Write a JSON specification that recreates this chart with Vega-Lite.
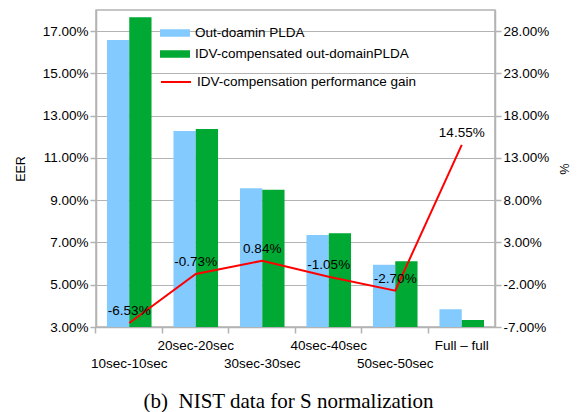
{
  "$schema": "https://vega.github.io/schema/vega-lite/v6.json",
  "width": 399,
  "height": 317,
  "autosize": {"type": "none"},
  "padding": {"left": 96, "top": 10, "right": 84, "bottom": 85},
  "background": "white",
  "config": {
    "font": "Liberation Sans",
    "view": {"stroke": "#b3b3b3", "strokeWidth": 1.5},
    "axis": {
      "labelFont": "Liberation Sans",
      "titleFont": "Liberation Sans",
      "labelColor": "#000",
      "titleColor": "#000",
      "domainColor": "#b3b3b3",
      "tickColor": "#b3b3b3",
      "gridColor": "#b3b3b3",
      "gridOpacity": 1,
      "domainWidth": 1.5,
      "tickWidth": 1.5,
      "gridWidth": 1.2,
      "titleFontWeight": "normal"
    }
  },
  "title": {
    "text": "(b)\u00a0 NIST data for S normalization",
    "orient": "bottom",
    "font": "Liberation Serif",
    "fontSize": 21,
    "fontWeight": "normal",
    "color": "#000",
    "anchor": "middle",
    "dx": -7,
    "offset": 21
  },
  "datasets": {
    "bars": [
      {"cat": "10sec-10sec", "series": "Out-doamin PLDA", "eer": 16.58},
      {"cat": "10sec-10sec", "series": "IDV-compensated out-domainPLDA", "eer": 17.66},
      {"cat": "20sec-20sec", "series": "Out-doamin PLDA", "eer": 12.27},
      {"cat": "20sec-20sec", "series": "IDV-compensated out-domainPLDA", "eer": 12.37},
      {"cat": "30sec-30sec", "series": "Out-doamin PLDA", "eer": 9.57},
      {"cat": "30sec-30sec", "series": "IDV-compensated out-domainPLDA", "eer": 9.49},
      {"cat": "40sec-40sec", "series": "Out-doamin PLDA", "eer": 7.35},
      {"cat": "40sec-40sec", "series": "IDV-compensated out-domainPLDA", "eer": 7.44},
      {"cat": "50sec-50sec", "series": "Out-doamin PLDA", "eer": 5.94},
      {"cat": "50sec-50sec", "series": "IDV-compensated out-domainPLDA", "eer": 6.11},
      {"cat": "Full – full", "series": "Out-doamin PLDA", "eer": 3.84},
      {"cat": "Full – full", "series": "IDV-compensated out-domainPLDA", "eer": 3.33}
    ],
    "gain": [
      {"cat": "10sec-10sec", "gain": -6.53, "label": "-6.53%"},
      {"cat": "20sec-20sec", "gain": -0.73, "label": "-0.73%"},
      {"cat": "30sec-30sec", "gain": 0.84, "label": "0.84%"},
      {"cat": "40sec-40sec", "gain": -1.05, "label": "-1.05%"},
      {"cat": "50sec-50sec", "gain": -2.70, "label": "-2.70%"},
      {"cat": "Full – full", "gain": 14.55, "label": "14.55%"}
    ]
  },
  "layer": [
    {
      "data": {"name": "bars"},
      "mark": {"type": "bar", "clip": true},
      "encoding": {
        "x": {
          "field": "cat",
          "type": "nominal",
          "sort": null,
          "scale": {"paddingInner": 0.33, "paddingOuter": 0.165},
          "axis": {
            "title": null,
            "labelAngle": 0,
            "bandPosition": -0.2463,
            "grid": false,
            "tickSize": 6,
            "labelPadding": 5,
            "labelFontSize": 13.5,
            "labelLineHeight": 18,
            "labelBaseline": "top",
            "labelOverlap": false,
            "labelBound": false,
            "labelExpr": "indexof(['20sec-20sec','40sec-40sec','Full – full'], datum.value) >= 0 ? datum.label : ['', datum.label]"
          }
        },
        "xOffset": {"field": "series", "sort": ["Out-doamin PLDA", "IDV-compensated out-domainPLDA"]},
        "y": {
          "field": "eer",
          "type": "quantitative",
          "scale": {"domain": [3, 18], "zero": false, "nice": false},
          "axis": {
            "title": "EER",
            "titleFontSize": 12.5,
            "titlePadding": 15,
            "values": [3, 5, 7, 9, 11, 13, 15, 17],
            "labelExpr": "format(datum.value, '.2f') + '%'",
            "labelFontSize": 13.5,
            "tickSize": 6,
            "labelPadding": 2,
            "grid": true
          }
        },
        "y2": {"datum": 3},
        "color": {
          "field": "series",
          "type": "nominal",
          "sort": ["Out-doamin PLDA", "IDV-compensated out-domainPLDA"],
          "scale": {"domain": ["Out-doamin PLDA", "IDV-compensated out-domainPLDA"], "range": ["#83caff", "#00a933"]},
          "legend": {
            "title": null,
            "orient": "none",
            "legendX": 69,
            "legendY": 13,
            "padding": 0,
            "symbolType": "M-1.5,-0.375H1.5V0.375H-1.5Z",
            "symbolSize": 400,
            "symbolStrokeWidth": 0,
            "labelOffset": 10,
            "labelFontSize": 13.5,
            "labelColor": "#000",
            "labelFont": "Liberation Sans",
            "rowPadding": 4,
            "labelLimit": 400
          }
        }
      }
    },
    {
      "data": {"name": "gain"},
      "mark": {"type": "line", "color": "#ff0000", "strokeWidth": 2},
      "encoding": {
        "x": {"field": "cat", "type": "nominal", "sort": null},
        "y": {
          "field": "gain",
          "type": "quantitative",
          "scale": {"domain": [-7, 30.5], "zero": false, "nice": false},
          "axis": {
            "orient": "right",
            "title": "%",
            "titleFontSize": 12.5,
            "titlePadding": 8,
            "values": [-7, -2, 3, 8, 13, 18, 23, 28],
            "labelExpr": "replace(format(datum.value, '.2f'), '\u2212', '-') + '%'",
            "labelFontSize": 13.5,
            "tickSize": 6,
            "labelPadding": 2,
            "grid": false
          }
        },
        "stroke": {
          "datum": "IDV-compensation performance gain",
          "scale": {"range": ["#ff0000"]},
          "legend": {
            "title": null,
            "orient": "none",
            "legendX": 69,
            "legendY": 61,
            "padding": 0,
            "symbolType": "M-1.5,0H1.5",
            "symbolSize": 400,
            "symbolStrokeWidth": 2,
            "labelOffset": 10,
            "labelFontSize": 13.5,
            "labelColor": "#000",
            "labelFont": "Liberation Sans",
            "labelLimit": 400
          }
        }
      }
    },
    {
      "data": {"name": "gain"},
      "mark": {"type": "text", "dy": -12, "fontSize": 13.5, "color": "#000", "font": "Liberation Sans"},
      "encoding": {
        "x": {"field": "cat", "type": "nominal", "sort": null},
        "y": {
          "field": "gain",
          "type": "quantitative",
          "scale": {"domain": [-7, 30.5], "zero": false, "nice": false},
          "axis": null
        },
        "text": {"field": "label", "type": "nominal"}
      }
    }
  ],
  "resolve": {"scale": {"y": "independent"}}
}
